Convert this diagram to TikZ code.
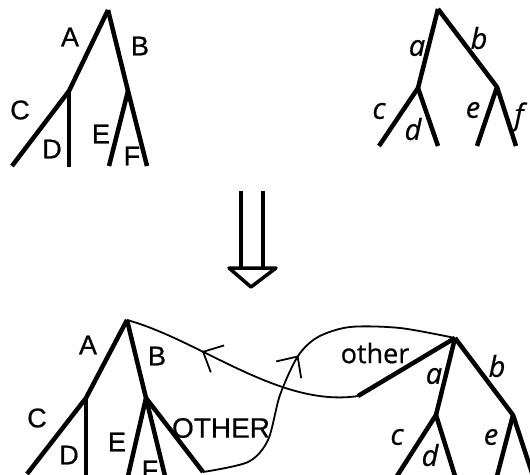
\documentclass[tikz,border=0pt]{standalone}
\usepackage{fontspec}
\setmainfont{Liberation Sans}
\newfontfamily\upfont[FakeBold=0.6]{Liberation Sans}
\newfontfamily\lowfont[FakeBold=0.6]{Open Sans}
\usetikzlibrary{arrows.meta,decorations.markings}
\begin{document}
\begin{tikzpicture}[x=1pt,y=-1pt,
  thickedge/.style={line width=4.5pt, line join=round},
  thinedge/.style={line width=1.8pt, line join=round},
  caplab/.style={font=\upfont\fontsize{27}{27}\selectfont, inner sep=0pt},
  biglab/.style={font=\upfont\fontsize{28}{28}\selectfont, inner sep=0pt},
  smalllab/.style={font=\lowfont\itshape\fontsize{29}{29}\selectfont, inner sep=0pt},
  wordlab/.style={font=\lowfont\fontsize{27}{27}\selectfont, inner sep=0pt},
  midarrow/.style={postaction={decorate}, decoration={markings,
     mark=at position #1 with {\arrow[line width=1.8pt]{Straight Barb[length=16pt,width=30pt]}}}},
]
\useasboundingbox (0,0) rectangle (530,474);
\clip (0,0) rectangle (530,474);

% ---------- top left tree ----------
\coordinate (TLr) at (108,10);
\coordinate (TLa) at (69,91);
\coordinate (TLc) at (12,166);
\coordinate (TLd) at (69,167);
\coordinate (TLb) at (128,91);
\coordinate (TLe) at (109,166);
\coordinate (TLf) at (147,166);
\draw[thickedge] (TLr) -- (TLa) -- (TLc);
\draw[thickedge] (TLa) -- (TLd);
\draw[thickedge] (TLr) -- (TLb) -- (TLf);
\draw[thickedge] (TLb) -- (TLe);
\node[caplab] (lTA) at (70,37) {A};
\node[caplab] (lTB) at (140,46) {B};
\node[caplab] (lTC) at (20,110) {C};
\node[caplab] (lTD) at (52,149) {D};
\node[caplab] (lTE) at (101,134) {E};
\node[caplab] (lTF) at (132,156) {F};

% ---------- top right tree ----------
\coordinate (TRr) at (438,9);
\coordinate (TRa) at (418,88);
\coordinate (TRc) at (379,146);
\coordinate (TRd) at (438,146);
\coordinate (TRb) at (497,87);
\coordinate (TRe) at (477,146);
\coordinate (TRf) at (516,146);
\draw[thickedge] (TRr) -- (TRa) -- (TRc);
\draw[thickedge] (TRa) -- (TRd);
\draw[thickedge] (TRr) -- (TRb) -- (TRf);
\draw[thickedge] (TRb) -- (TRe);
\node[smalllab] (lta) at (417,48) {a};
\node[smalllab] (ltb) at (479,38) {b};
\node[smalllab] (ltc) at (379,111) {c};
\node[smalllab] (ltd) at (413,129) {d};
\node[smalllab] (lte) at (473,110) {e};
\node[smalllab] (ltf) at (519,117) {f};

% ---------- double arrow ----------
\coordinate (ArL1) at (241,191);
\coordinate (ArL2) at (241,268);
\coordinate (ArR1) at (263,191);
\coordinate (ArR2) at (263,268);
\coordinate (TriL) at (229,268);
\coordinate (TriR) at (276,268);
\coordinate (TriT) at (251,287);
\draw[line width=4pt] (ArL1) -- (ArL2);
\draw[line width=4pt] (ArR1) -- (ArR2);
\draw[line width=3.5pt, line join=round] (TriL) -- (TriR) -- (TriT) -- cycle;

% ---------- bottom left tree ----------
\coordinate (BLr) at (127,320);
\coordinate (BLa) at (86,398);
\coordinate (BLc) at (27,474);
\coordinate (BLd) at (86,476);
\coordinate (BLb) at (146,398);
\coordinate (BLe) at (128,476);
\coordinate (BLf) at (165,476);
\coordinate (BLo) at (203,472);
\draw[thickedge] (BLr) -- (BLa) -- (BLc);
\draw[thickedge] (BLa) -- (BLd);
\draw[thickedge] (BLr) -- (BLb) -- (BLf);
\draw[thickedge] (BLb) -- (BLe);
\draw[thickedge] (BLb) -- (BLo);
\node[caplab] (lBA) at (88,345) {A};
\node[caplab] (lBB) at (157,356) {B};
\node[caplab] (lBC) at (37,418) {C};
\node[caplab] (lBD) at (69,455) {D};
\node[caplab] (lBE) at (117,442) {E};
\node[caplab] (lBF) at (150,470) {F};
\node[biglab] (lOTHER) at (221,428) {OTHER};

% ---------- bottom right tree ----------
\coordinate (BRr) at (455,338);
\coordinate (BRa) at (436,415);
\coordinate (BRc) at (397,476);
\coordinate (BRd) at (455,476);
\coordinate (BRb) at (513,415);
\coordinate (BRe) at (497,476);
\coordinate (BRf) at (533,476);
\coordinate (BRo) at (358,396);
\draw[thickedge] (BRr) -- (BRa) -- (BRc);
\draw[thickedge] (BRa) -- (BRd);
\draw[thickedge] (BRr) -- (BRb) -- (BRf);
\draw[thickedge] (BRb) -- (BRe);
\draw[thickedge] (BRr) -- (BRo);
\node[wordlab] (lother) at (375,353) {other};
\node[smalllab] (lba) at (434,376) {a};
\node[smalllab] (lbb) at (497,366) {b};
\node[smalllab] (lbc) at (397,437) {c};
\node[smalllab] (lbd) at (430,455) {d};
\node[smalllab] (lbe) at (491,437) {e};

% ---------- thin connecting curves ----------
\draw[thinedge, midarrow=0.67] (BRo) .. controls (280,408) and (200,340) .. (BLr);
\draw[thinedge, midarrow=0.5] plot[smooth] coordinates {(BLo) (248,462) (268,440) (280,395) (298,356) (318,337) (350,327) (400,328) (BRr)};
\end{tikzpicture}
\end{document}
